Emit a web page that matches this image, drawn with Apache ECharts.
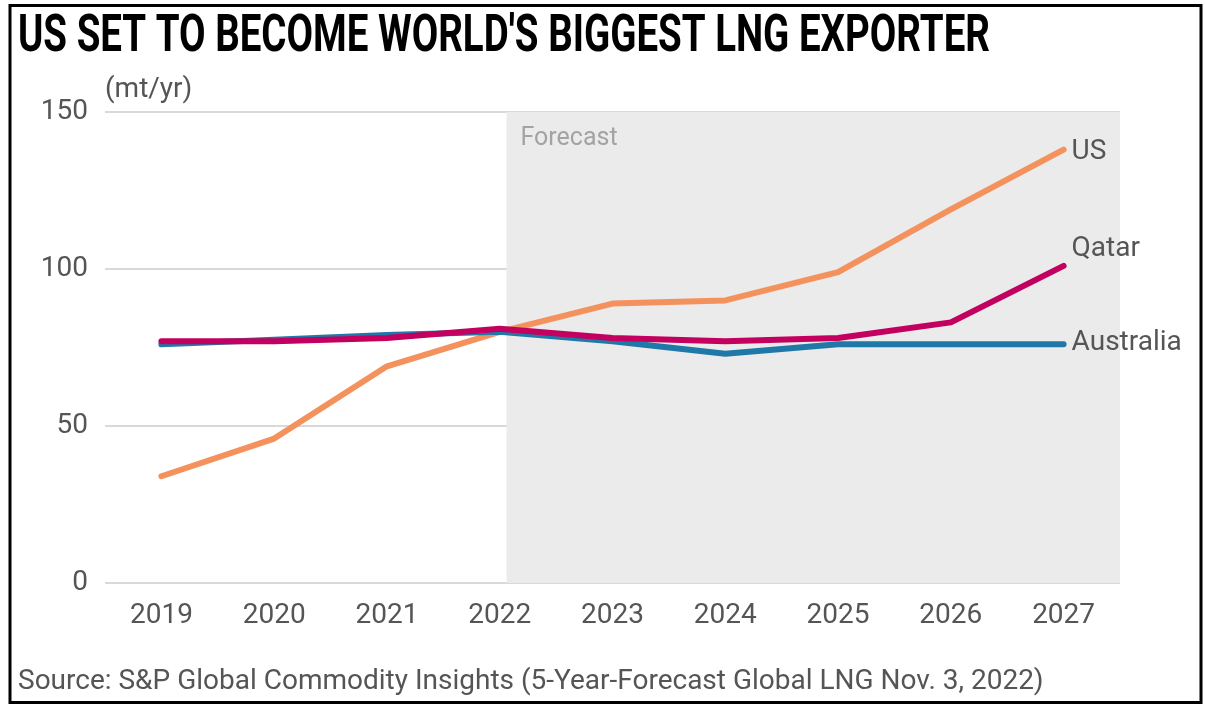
<!DOCTYPE html>
<html>
<head>
<meta charset="utf-8">
<title>US set to become world's biggest LNG exporter</title>
<script src="https://cdn.jsdelivr.net/npm/echarts@6/dist/echarts.min.js"></script>
<style>
  html, body { margin: 0; padding: 0; background: #ffffff; }
  #chart { width: 1205px; height: 704px; }
</style>
</head>
<body>
<div id="chart"></div>
<script>
// LNG export capacity by country, million tonnes per year
const years = ['2019', '2020', '2021', '2022', '2023', '2024', '2025', '2026', '2027'];
const usExports = [34, 46, 69, 80, 89, 90, 99, 119, 138];
const australiaExports = [76, 77.5, 79, 80, 77, 73, 76, 76, 76];
const qatarExports = [77, 77, 78, 81, 78, 77, 78, 83, 101];
const yTicks = { min: 0, max: 150, step: 50 };
// forecast period starts just after the 2022 point (in category band units)
const forecastStart = 3.56;
const forecastEnd = years.length;

const titleText = "US SET TO BECOME WORLD'S BIGGEST LNG EXPORTER";
const sourceText = 'Source: S&P Global Commodity Insights (5-Year-Forecast Global LNG Nov. 3, 2022)';

const textFont = 'Roboto, "Noto Sans", sans-serif';
const greyText = '#555555';
const labelSize = 28;

// The headline uses a condensed bold face: squeeze a bold sans to the headline width
const titleFont = 'bold 52px Roboto, "Noto Sans", sans-serif';
const titleWidth = 972;
const measureCtx = document.createElement('canvas').getContext('2d');
measureCtx.font = titleFont;
const titleScale = titleWidth / measureCtx.measureText(titleText).width;

const chart = echarts.init(document.getElementById('chart'), null, { renderer: 'canvas' });

function lineSeries(name, data, color, labelOffset, z) {
  return {
    name: name,
    type: 'line',
    data: data,
    z: z,
    symbol: 'none',
    lineStyle: { color: color, width: 6, cap: 'round', join: 'round' },
    itemStyle: { color: color },
    endLabel: {
      show: true,
      formatter: '{a}',
      color: greyText,
      fontFamily: textFont,
      fontSize: labelSize,
      distance: 8,
      offset: labelOffset
    },
    emphasis: { disabled: true },
    animation: false
  };
}

chart.setOption({
  animation: false,
  backgroundColor: '#ffffff',
  graphic: [
    {
      type: 'text',
      x: 18,
      y: 12,
      scaleX: titleScale,
      style: {
        text: titleText,
        fill: '#000000',
        font: titleFont,
        textVerticalAlign: 'top'
      },
      silent: true
    },
    {
      type: 'rect',
      shape: { x: 10, y: 5.5, width: 1191, height: 697 },
      style: { fill: 'none', stroke: '#000000', lineWidth: 3 },
      silent: true,
      z: 100
    },
    {
      type: 'text',
      x: 18,
      y: 668,
      style: {
        text: sourceText,
        fill: greyText,
        font: labelSize + 'px ' + textFont,
        textVerticalAlign: 'top'
      },
      silent: true
    }
  ],
  grid: { left: 105, right: 85, top: 112, bottom: 121, containLabel: false },
  xAxis: [
    {
      type: 'category',
      data: years,
      boundaryGap: true,
      axisLine: { show: false },
      axisTick: { show: false },
      axisLabel: { color: greyText, fontFamily: textFont, fontSize: labelSize, margin: 19 }
    },
    {
      type: 'value',
      min: 0,
      max: forecastEnd,
      show: false
    }
  ],
  yAxis: {
    type: 'value',
    min: yTicks.min,
    max: yTicks.max,
    interval: yTicks.step,
    name: '(mt/yr)',
    nameLocation: 'end',
    nameGap: 8,
    nameTextStyle: { color: greyText, fontFamily: textFont, fontSize: labelSize, align: 'left' },
    axisLine: { show: false },
    axisTick: { show: false },
    axisLabel: { color: greyText, fontFamily: textFont, fontSize: labelSize, margin: 17 },
    splitLine: { lineStyle: { color: '#d9d9d9', width: 2 } }
  },
  series: [
    {
      name: 'forecast',
      type: 'line',
      xAxisIndex: 1,
      data: [],
      z: -1,
      silent: true,
      markArea: {
        silent: true,
        itemStyle: { color: '#ebebeb' },
        label: {
          show: true,
          position: 'insideTopLeft',
          formatter: 'Forecast',
          color: '#a3a3a3',
          fontFamily: textFont,
          fontSize: 25,
          distance: 0,
          offset: [14, 14]
        },
        data: [[{ xAxis: forecastStart, yAxis: yTicks.min }, { xAxis: forecastEnd, yAxis: yTicks.max }]]
      }
    },
    lineSeries('US', usExports, '#f4925e', [0, 2], 3),
    lineSeries('Australia', australiaExports, '#1f78a8', [0, -1], 4),
    lineSeries('Qatar', qatarExports, '#c3005f', [0, -17], 5)
  ]
});
</script>
</body>
</html>
